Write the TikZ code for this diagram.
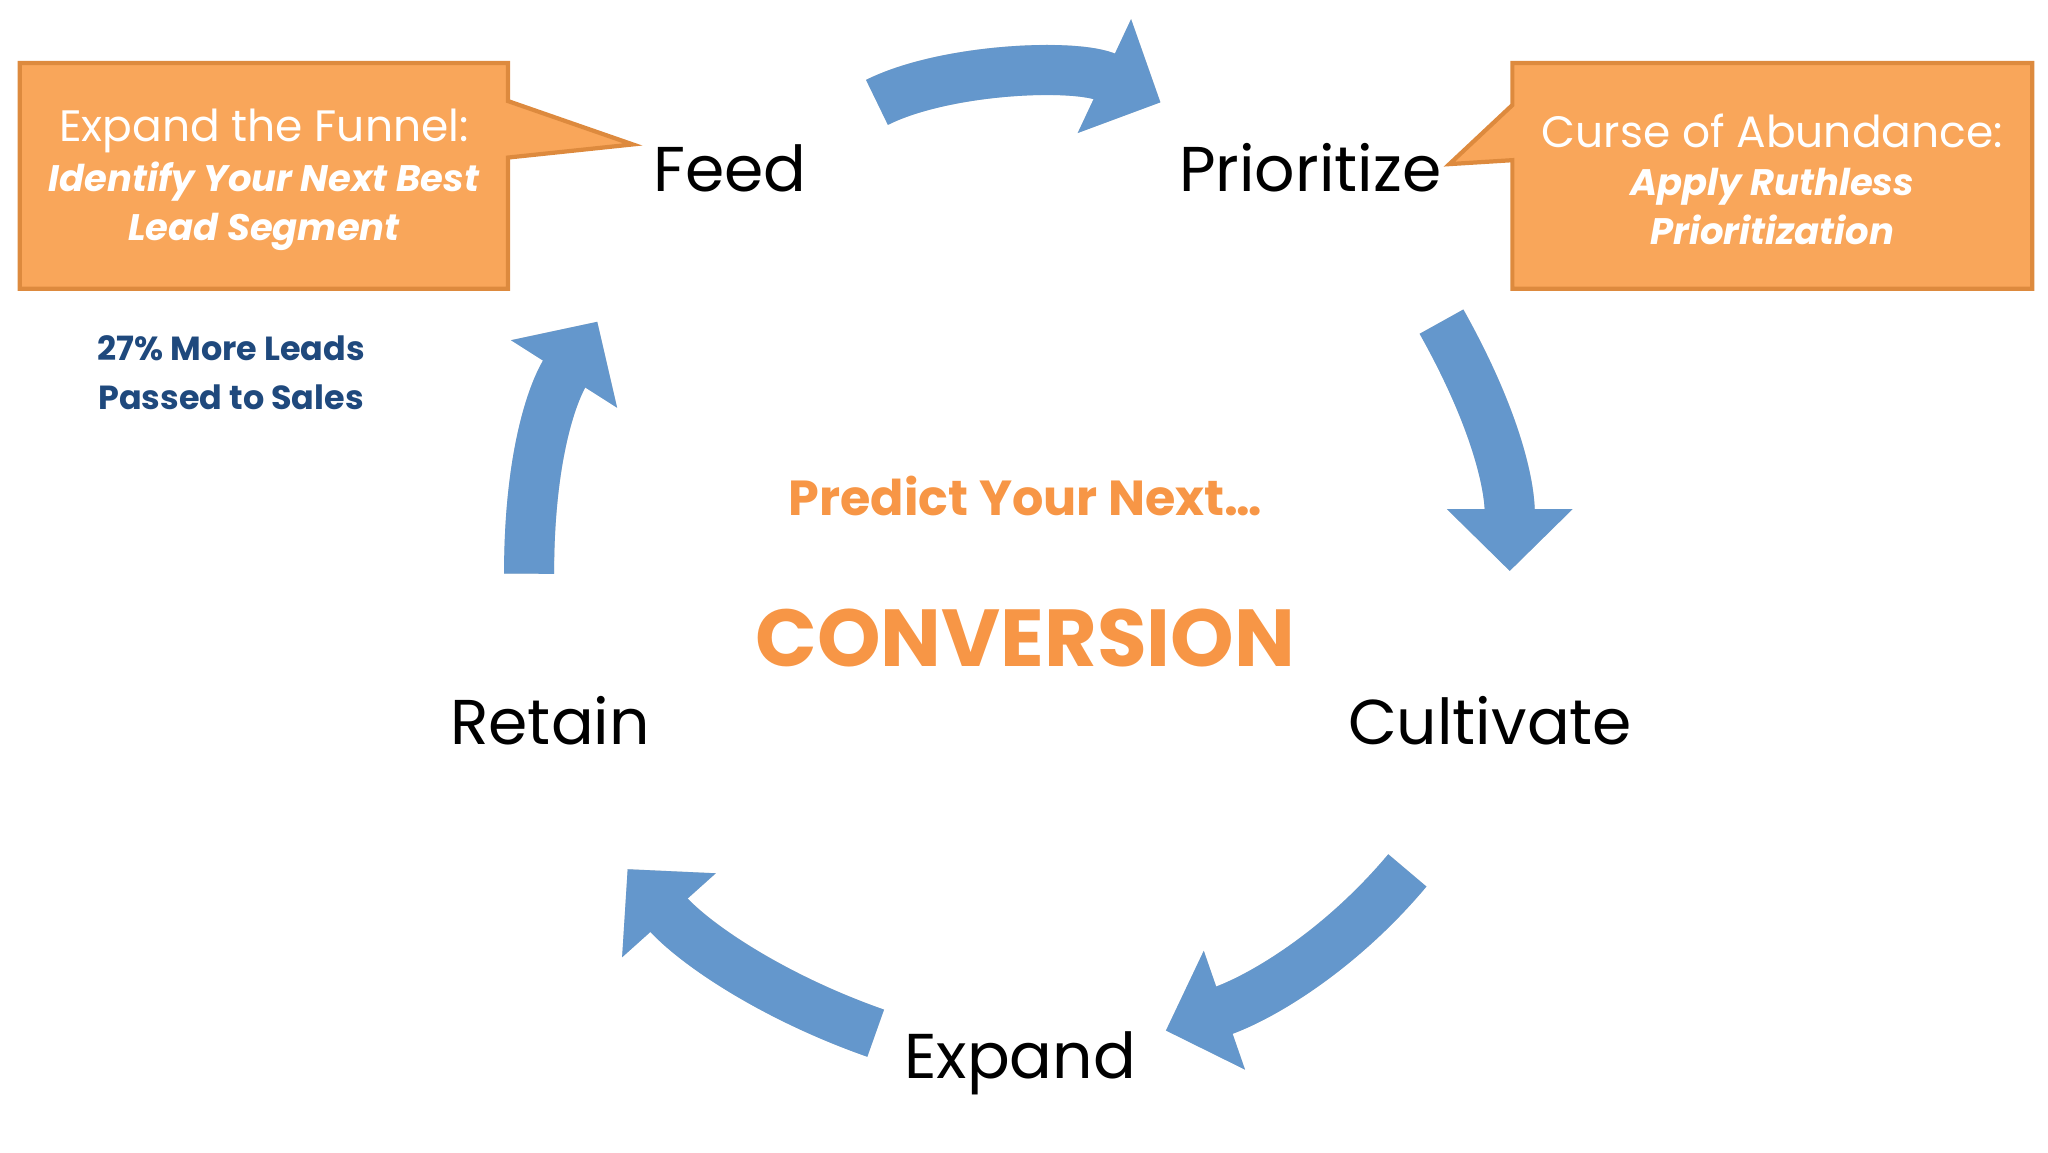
\documentclass[tikz,border=0pt]{standalone}
\usepackage{fontspec}
\setmainfont{Poppins}
\usetikzlibrary{arrows.meta}
\definecolor{arr}{HTML}{6497CC}
\definecolor{org}{HTML}{F9A65A}
\definecolor{orgd}{HTML}{DD8A3E}
\definecolor{orgt}{HTML}{F79646}
\definecolor{navy}{HTML}{1F497D}
\tikzset{
 bandb/.style={arr,line width=0.5cm,-{Triangle[width=1.22cm,length=0.62cm]}},
 bands/.style={black!18,line width=0.5cm,-{Triangle[width=1.22cm,length=0.62cm]}},
 lbl/.style={font=\fontsize{18pt}{22pt}\selectfont,text=black},
 boxs/.style={fill=org,draw=orgd,line width=1.2pt}
}
\newcommand{\carrow}[1]{%
 \draw[bands,shift={(0.05,-0.05)}] #1;
 \draw[bandb] #1;}
\begin{document}
\begin{tikzpicture}[x=0.013128cm,y=-0.013128cm]
\useasboundingbox (0,0) rectangle (1560,877.5);
% arrows
\carrow{(668,78) .. controls (720,52) and (820,48) .. (884,78)}
\carrow{(1098,245) .. controls (1140,320) and (1150,370) .. (1150,435)}
\carrow{(1072,663) .. controls (1020,725) and (960,760) .. (888,785)}
\carrow{(667,787) .. controls (590,760) and (530,720) .. (478,662)}
\carrow{(403,437) .. controls (403,350) and (420,300) .. (455,245)}
% boxes
\draw[boxs] (15,48) -- (387,48) -- (387,77) -- (482,110) -- (387,120) -- (387,220) -- (15,220) -- cycle;
\draw[boxs] (1152,48) -- (1548,48) -- (1548,220) -- (1152,220) -- (1152,122) -- (1104,125) -- (1152,80) -- cycle;
\node[text=white,align=center,font=\fontsize{12.5pt}{16pt}\selectfont] (lt) at (201,100) {Expand the Funnel:};
\node[text=white,align=center,font=\fontsize{10.5pt}{14pt}\selectfont\bfseries\itshape] (lb) at (201,157) {Identify Your Next Best\\Lead Segment};
\node[text=white,align=center,font=\fontsize{12.5pt}{16pt}\selectfont] (rt) at (1350,100) {Curse of Abundance:};
\node[text=white,align=center,font=\fontsize{10.5pt}{14pt}\selectfont\bfseries\itshape] (rb) at (1350,157) {Apply Ruthless\\Prioritization};
\node[text=navy,align=center,font=\fontsize{9.5pt}{14pt}\selectfont\bfseries] (st) at (176,284) {27\% More Leads\\Passed to Sales};
% labels
\node[lbl] (feed) at (556,128) {Feed};
\node[lbl] (prio) at (998,128) {Prioritize};
\node[lbl] (cult) at (1135,549) {Cultivate};
\node[lbl] (exp) at (777,810) {Expand};
\node[lbl] (ret) at (419,549) {Retain};
\node[text=orgt,font=\fontsize{14pt}{18pt}\selectfont\bfseries] (pred) at (781,378) {Predict Your Next…};
\node[text=orgt,font=\fontsize{23pt}{28pt}\selectfont\bfseries] (conv) at (781,486) {CONVERSION};
\end{tikzpicture}
\end{document}
